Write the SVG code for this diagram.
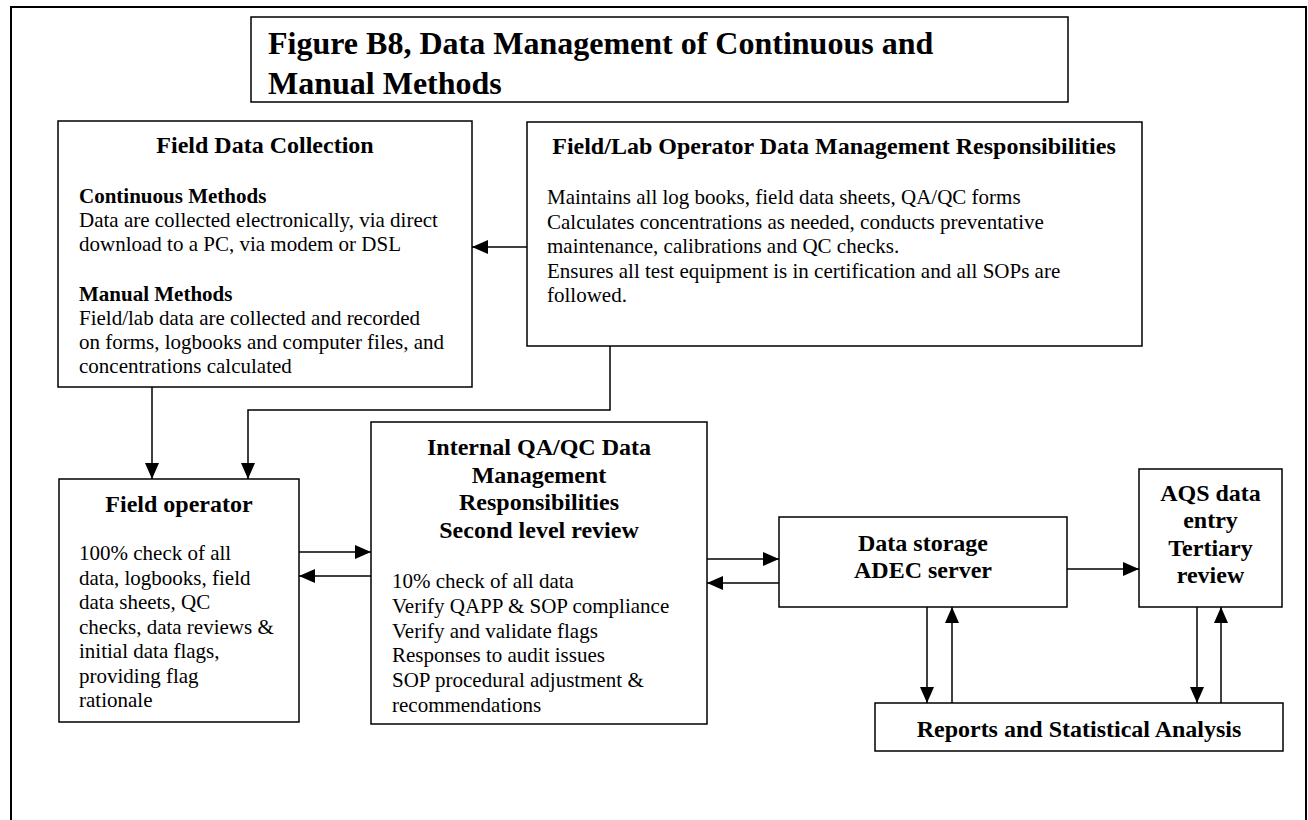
<svg xmlns="http://www.w3.org/2000/svg" width="1308" height="820" viewBox="0 0 1308 820">
<style>
  .box { fill: #ffffff; stroke: #000000; stroke-width: 1.5; }
  .frame { fill: none; stroke: #000000; stroke-width: 2; }
  .t { font-family: "Liberation Serif", "Times New Roman", serif; fill: #000000; }
  .h { font-size: 24px; font-weight: bold; text-anchor: middle; }
  .hs { font-size: 21px; font-weight: bold; }
  .b { font-size: 21px; }
  .title { font-size: 32px; font-weight: bold; }
  .conn { fill: none; stroke: #000000; stroke-width: 1.5; marker-end: url(#arrow); }
</style>
<defs>
  <marker id="arrow" markerUnits="userSpaceOnUse" markerWidth="16" markerHeight="14" refX="16" refY="7" orient="auto">
    <path d="M0,0 L16,7 L0,14 z" fill="#000000"/>
  </marker>
</defs>
<rect width="1308" height="820" fill="#ffffff"/>
<rect class="frame" x="11" y="7" width="1295" height="830"/>

<g id="title">
  <rect class="box" x="251" y="17" width="817" height="85"/>
  <text class="t title" x="268" y="54">Figure B8, Data Management of Continuous and</text>
  <text class="t title" x="268" y="94">Manual Methods</text>
</g>

<g id="field-data-collection">
  <rect class="box" x="58" y="121" width="414" height="266"/>
  <text class="t h" x="265" y="153">Field Data Collection</text>
  <text class="t hs" x="79" y="203">Continuous Methods</text>
  <text class="t b" x="79" y="227">Data are collected electronically, via direct</text>
  <text class="t b" x="79" y="251">download to a PC, via modem or DSL</text>
  <text class="t hs" x="79" y="301">Manual Methods</text>
  <text class="t b" x="79" y="325">Field/lab data are collected and recorded</text>
  <text class="t b" x="79" y="349">on forms, logbooks and computer files, and</text>
  <text class="t b" x="79" y="373">concentrations calculated</text>
</g>

<g id="field-lab-operator">
  <rect class="box" x="527" y="122" width="615" height="224"/>
  <text class="t h" x="834" y="154">Field/Lab Operator Data Management Responsibilities</text>
  <text class="t b" x="547" y="204">Maintains all log books, field data sheets, QA/QC forms</text>
  <text class="t b" x="547" y="228.5">Calculates concentrations as needed, conducts preventative</text>
  <text class="t b" x="547" y="253">maintenance, calibrations and QC checks.</text>
  <text class="t b" x="547" y="277.5">Ensures all test equipment is in certification and all SOPs are</text>
  <text class="t b" x="547" y="302">followed.</text>
</g>

<g id="field-operator">
  <rect class="box" x="59" y="479" width="240" height="243"/>
  <text class="t h" x="179" y="512">Field operator</text>
  <text class="t b" x="79" y="560">100% check of all</text>
  <text class="t b" x="79" y="584.5">data, logbooks, field</text>
  <text class="t b" x="79" y="609">data sheets, QC</text>
  <text class="t b" x="79" y="633.5">checks, data reviews &amp;</text>
  <text class="t b" x="79" y="658">initial data flags,</text>
  <text class="t b" x="79" y="682.5">providing flag</text>
  <text class="t b" x="79" y="707">rationale</text>
</g>

<g id="internal-qaqc">
  <rect class="box" x="371" y="422" width="336" height="302"/>
  <text class="t h" x="539" y="455">Internal QA/QC Data</text>
  <text class="t h" x="539" y="482.5">Management</text>
  <text class="t h" x="539" y="510">Responsibilities</text>
  <text class="t h" x="539" y="537.5">Second level review</text>
  <text class="t b" x="392" y="588">10% check of all data</text>
  <text class="t b" x="392" y="612.8">Verify QAPP &amp; SOP compliance</text>
  <text class="t b" x="392" y="637.6">Verify and validate flags</text>
  <text class="t b" x="392" y="662.4">Responses to audit issues</text>
  <text class="t b" x="392" y="687.2">SOP procedural adjustment &amp;</text>
  <text class="t b" x="392" y="712">recommendations</text>
</g>

<g id="data-storage">
  <rect class="box" x="779" y="517" width="288" height="90"/>
  <text class="t h" x="923" y="551">Data storage</text>
  <text class="t h" x="923" y="578">ADEC server</text>
</g>

<g id="aqs">
  <rect class="box" x="1139" y="469" width="143" height="138"/>
  <text class="t h" x="1210.5" y="501">AQS data</text>
  <text class="t h" x="1210.5" y="528">entry</text>
  <text class="t h" x="1210.5" y="555.5">Tertiary</text>
  <text class="t h" x="1210.5" y="583">review</text>
</g>

<g id="reports">
  <rect class="box" x="875" y="703" width="408" height="48"/>
  <text class="t h" x="1079" y="737">Reports and Statistical Analysis</text>
</g>

<g id="connectors">
  <path class="conn" d="M527,247 H472"/>
  <path class="conn" d="M152,387 V479"/>
  <path class="conn" d="M610,346 V410 H248 V479"/>
  <path class="conn" d="M299,552 H371"/>
  <path class="conn" d="M371,576 H299"/>
  <path class="conn" d="M707,559 H779"/>
  <path class="conn" d="M779,583 H707"/>
  <path class="conn" d="M1067,569 H1139"/>
  <path class="conn" d="M927,607 V703"/>
  <path class="conn" d="M952,703 V607"/>
  <path class="conn" d="M1197,607 V703"/>
  <path class="conn" d="M1221,703 V607"/>
</g>
</svg>
